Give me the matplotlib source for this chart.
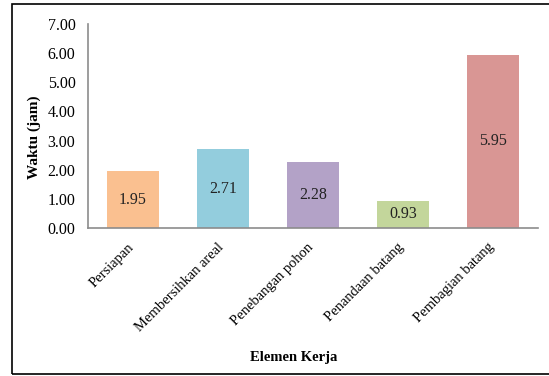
import matplotlib.pyplot as plt
import matplotlib.transforms as mtransforms
from matplotlib.patches import Rectangle

# data
categories = ['Persiapan', 'Membersihkan areal', 'Penebangan pohon',
              'Penandaan batang', 'Pembagian batang']
waktu = [1.95, 2.71, 2.28, 0.93, 5.95]
colors = ['#FAC090', '#93CDDD', '#B3A2C7', '#C3D69B', '#D99694']
yticks = [0, 1, 2, 3, 4, 5, 6, 7]

plt.rcParams['font.family'] = ['Liberation Serif', 'DejaVu Serif']

W, H = 549, 376
fig = plt.figure(figsize=(W / 100, H / 100), dpi=100)

# outer frame around the chart area
fig.patches.append(Rectangle((12 / W, 2 / H), 1.0, (372 - 2) / H,
                             transform=fig.transFigure, fill=False,
                             edgecolor='black', linewidth=1.2))

ax = fig.add_axes([88 / W, 1 - 228 / H, (538 - 88) / W, (228 - 24) / H])

x = range(len(categories))
bars = ax.bar(x, waktu, width=0.57, color=colors)

for b, v in zip(bars, waktu):
    ax.text(b.get_x() + b.get_width() / 2, v / 2, f'{v:.2f}',
            ha='center', va='center', fontsize=11.5, color='#222222')

ax.set_xlim(-0.5, len(categories) - 0.5)
ax.set_ylim(0, 7)
ax.set_yticks(yticks)
ax.set_yticklabels([f'{t:.2f}' for t in yticks], fontsize=11.5)
ax.set_xticks(list(x))
ax.set_xticklabels(categories, rotation=45, ha='right', rotation_mode='anchor',
                   fontsize=10.5)
ax.tick_params(axis='y', length=0, pad=9)
ax.tick_params(axis='x', length=0, pad=9)

# nudge category labels a little to the left
shift = mtransforms.ScaledTranslation(-6 / 100, 0, fig.dpi_scale_trans)
for lbl in ax.get_xticklabels():
    lbl.set_transform(lbl.get_transform() + shift)

for s in ['top', 'right']:
    ax.spines[s].set_visible(False)
for s in ['left', 'bottom']:
    ax.spines[s].set_color('#8c8c8c')
    ax.spines[s].set_linewidth(1.2)

ax.set_ylabel('Waktu (jam)', fontsize=11, fontweight='bold')
ax.yaxis.set_label_coords(-0.105, 0.446)
fig.text(294 / W, 1 - 358 / H, 'Elemen Kerja', ha='center',
         va='center', fontsize=10.5, fontweight='bold')

fig.savefig('out.png', dpi=100)
